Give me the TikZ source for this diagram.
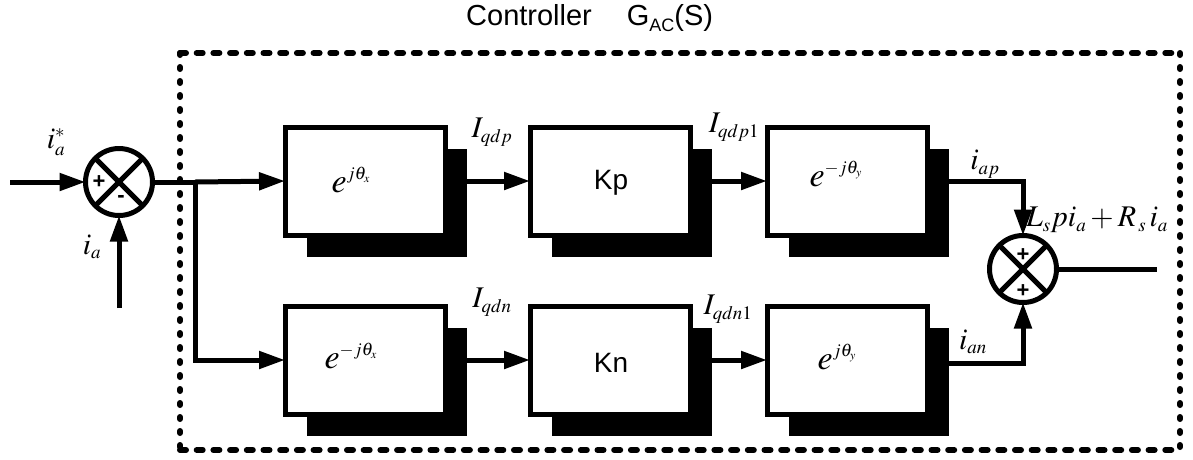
\documentclass[tikz,border=0pt]{standalone}
\usepackage{mathptmx}
\usepackage[no-math]{fontspec}
\newfontfamily\arial{Liberation Sans}
\DeclareMathSizes{34}{34}{18}{12}
\DeclareMathSizes{30}{30}{19}{13}
\usetikzlibrary{arrows.meta,shadows}
\begin{document}
\begin{tikzpicture}[x=1pt,y=-1pt,
  lw/.style={line width=5pt},
  blk/.style={draw,lw,fill=white,minimum width=160pt,minimum height=108pt,outer sep=0pt,inner sep=0pt,
     drop shadow={shadow xshift=22pt,shadow yshift=-22pt,opacity=1,fill=black}},
  sumj/.style={draw,lw,circle,minimum size=67pt,outer sep=0pt,inner sep=0pt},
  arr/.style={lw,-{Triangle[length=26pt,width=17pt]}},
  wire/.style={lw},
  mlab/.style={inner sep=0pt,font=\fontsize{30}{32}\selectfont},
  elab/.style={inner sep=0pt,font=\fontsize{34}{36}\selectfont},
  sgn/.style={inner sep=0pt,font=\arial\bfseries\fontsize{22}{24}\selectfont},
  txt/.style={inner sep=0pt,font=\arial\fontsize{28}{30}\selectfont},
  hdash/.style={line width=6pt,line cap=round,dash pattern=on 6pt off 10.7pt},
  vdash/.style={line width=6pt,line cap=round,dash pattern=on 2pt off 12pt}
]
\useasboundingbox (0,0) rectangle (1193,459);
% title
\node[inner sep=0pt,anchor=base west,font=\arial\fontsize{29}{32}\selectfont] (title) at (466,25)
  {Controller\hspace{35pt}G\raisebox{-6pt}{\fontsize{18}{18}\selectfont AC}(S)};
% dashed controller frame
\draw[hdash] (180,53) -- (1180,53);
\draw[hdash] (180,450) -- (1180,450);
\draw[vdash] (180,53) -- (180,450);
\draw[vdash] (1180,53) -- (1180,450);
% summing junctions
\node[sumj] (s1) at (119,182) {};
\node[sumj] (s2) at (1023,269) {};
\foreach \s in {s1,s2}{
  \draw[wire] (\s.north east) -- (\s.south west);
  \draw[wire] (\s.north west) -- (\s.south east);
}
\node[sgn] (p1) at (99,182) {+};
\node[sgn] (m1) at (121,199) {-};
\node[sgn] (p2) at (1023,255) {+};
\node[sgn] (p3) at (1023,291) {+};
% blocks
\node[blk] (b1) at (365,181) {};
\node[blk] (b2) at (610,181) {};
\node[blk] (b3) at (847,181) {};
\node[blk] (b4) at (365,360) {};
\node[blk] (b5) at (610,360) {};
\node[blk] (b6) at (847,360) {};
\node[elab] (e1) at (351,180) {$e^{j\theta_x}$};
\node[txt] (kp) at (611,183) {Kp};
\node[elab] (e3) at (836,174) {$e^{-j\theta_y}$};
\node[elab] (e4) at (351,356) {$e^{-j\theta_x}$};
\node[txt] (kn) at (611,363) {Kn};
\node[elab] (e6) at (837,357) {$e^{j\theta_y}$};
% inputs
\coordinate (in) at (10,182);
\coordinate (fb) at (119,308);
\coordinate (br) at (195,182);
\coordinate (out) at (1157,269);
\draw[arr] (in) -- (s1.west);
\draw[arr] (fb) -- (s1.south);
\draw[wire] (s1.east) -- (br);
\draw[arr] (br) -- (b1.west);
\draw[arr] (br) |- (b4.west);
\draw[arr] ([xshift=22pt]b1.east) -- (b2.west);
\draw[arr] ([xshift=22pt]b2.east) -- (b3.west);
\draw[arr] ([xshift=22pt]b4.east) -- (b5.west);
\draw[arr] ([xshift=22pt]b5.east) -- (b6.west);
\draw[arr] ([xshift=22pt]b3.east) -| (s2.north);
\draw[arr] ([xshift=22pt,yshift=-3pt]b6.east) -| (s2.south);
\draw[wire] (s2.east) -- (out);
% labels
\node[mlab] (lia1) at (56,142) {$i_a^*$};
\node[mlab] (lia2) at (92,247) {$i_a$};
\node[mlab] (lqdp) at (492,132) {$I_{qdp}$};
\node[mlab] (lqdp1) at (734,127) {$I_{qdp1}$};
\node[mlab] (lqdn) at (492,302) {$I_{qdn}$};
\node[mlab] (lqdn1) at (728,309) {$I_{qdn1}$};
\node[mlab] (liap) at (985,164) {$i_{ap}$};
\node[mlab] (lian) at (973,342) {$i_{an}$};
\node[mlab] (lsum) at (1097,220) {$L_s p i_a + R_{\,s}\, i_a$};
\end{tikzpicture}
\end{document}
